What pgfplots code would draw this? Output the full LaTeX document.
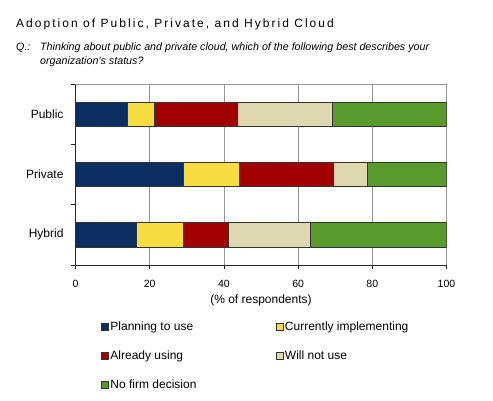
\documentclass[border=0pt]{standalone}
\usepackage{fontspec}
\setmainfont{Liberation Sans}
\usepackage{pgfplots}
\pgfplotsset{compat=1.18}
\definecolor{cBlue}{RGB}{12,47,99}
\definecolor{cYellow}{RGB}{247,221,64}
\definecolor{cRed}{RGB}{160,0,0}
\definecolor{cBeige}{RGB}{221,216,176}
\definecolor{cGreen}{RGB}{88,155,45}
\definecolor{cGrid}{RGB}{150,150,150}
\begin{document}
\begin{tikzpicture}
\path[use as bounding box] (0pt,0pt) rectangle (493pt,400pt);
\node[anchor=base west, inner sep=0, font=\fontsize{12}{14}\selectfont\addfontfeatures{LetterSpace=17}] at (16pt,372pt) {Adoption of Public, Private, and Hybrid Cloud};
\node[anchor=base west, inner sep=0, font=\fontsize{10.7}{13}\selectfont\itshape] at (16pt,349.5pt) {Q.:};
\node[anchor=base west, inner sep=0, font=\fontsize{10.7}{13}\selectfont\itshape] at (40pt,349.5pt) {Thinking about public and private cloud, which of the following best describes your};
\node[anchor=base west, inner sep=0, font=\fontsize{10.7}{13}\selectfont\itshape] at (40pt,335.2pt) {organization's status?};
\begin{axis}[
  at={(75.5pt,135pt)}, anchor=south west,
  scale only axis, width=371pt, height=181pt,
  xbar stacked, bar width=0.4,
  xmin=0, xmax=100, ymin=-0.5, ymax=2.5,
  xtick={0,20,...,100}, ytick={0,1,2}, yticklabels={Hybrid,Private,Public},
  minor ytick={-0.5,0.5,1.5,2.5},
  axis x line*=bottom, axis y line*=left,
  axis line style={black!85, line width=0.8pt},
  xmajorgrids, grid style={cGrid, line width=0.6pt},
  tick align=outside, major tick length=3.5pt, minor tick length=4pt,
  every major y tick/.style={draw=none},
  every minor y tick/.style={black!85, line width=0.8pt},
  every major x tick/.style={black!85, line width=0.8pt},
  /pgf/number format/assume math mode=true,
  xticklabel style={font=\fontsize{10.5}{12}\selectfont, yshift=-8pt},
  yticklabel style={font=\fontsize{12}{14}\selectfont, xshift=-5pt},
  xlabel={(\% of respondents)},
  every axis x label/.style={at={(axis description cs:0.5,0)}, anchor=base, yshift=-38pt, font=\fontsize{12}{14}\selectfont},
  legend columns=2,
  legend cell align=left,
  legend style={at={(axis description cs:0.07,-0.305)}, anchor=north west, draw=none, fill=none,
    font=\fontsize{12}{14}\selectfont, inner sep=0pt, outer sep=0pt,
    nodes={inner sep=1.5pt},
    row sep=16pt,
    /tikz/column 2/.style={column sep=78pt}},
  legend image code/.code={\draw[#1, draw=black!80, line width=0.5pt] (0pt,-3.5pt) rectangle (7pt,3.5pt);},
  every axis plot/.append style={draw=black!80, line width=0.6pt},
]
\addplot[fill=cBlue] coordinates {(16.5,0) (29.1,1) (13.9,2)};
\addplot[fill=cYellow] coordinates {(12.5,0) (15.0,1) (7.3,2)};
\addplot[fill=cRed] coordinates {(12.3,0) (25.4,1) (22.5,2)};
\addplot[fill=cBeige] coordinates {(21.9,0) (9.2,1) (25.6,2)};
\addplot[fill=cGreen] coordinates {(36.8,0) (21.3,1) (30.7,2)};
\legend{Planning to use, Currently implementing, Already using, Will not use, No firm decision}
\draw[cGrid, line width=0.6pt] (rel axis cs:0,1) -- (rel axis cs:1,1);
\end{axis}
\end{tikzpicture}
\end{document}
